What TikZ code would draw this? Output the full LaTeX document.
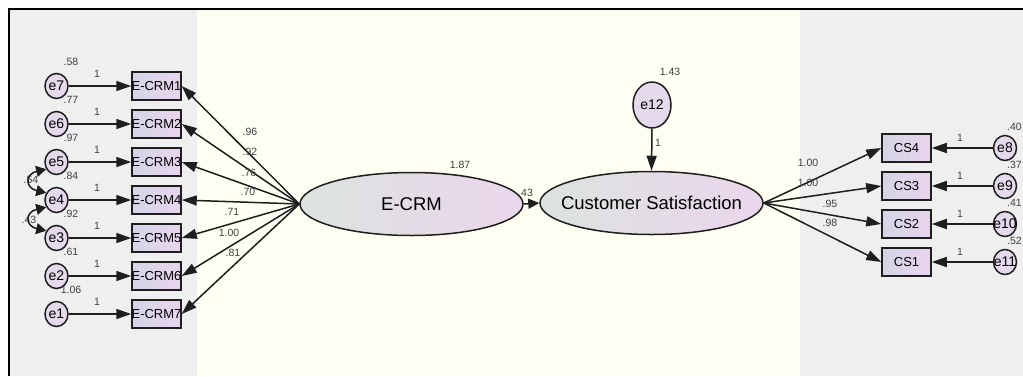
\documentclass[tikz,border=0pt]{standalone}
\usepackage{fontspec}
\setmainfont{Liberation Sans}
\usetikzlibrary{shapes.geometric,arrows.meta}
\definecolor{panelgray}{RGB}{239,239,239}
\definecolor{cream}{RGB}{254,254,242}
\definecolor{ellL}{RGB}{220,227,223}
\definecolor{ellR}{RGB}{234,214,236}
\definecolor{boxL}{RGB}{212,213,230}
\definecolor{boxR}{RGB}{232,212,236}
\definecolor{errfill}{RGB}{228,218,236}
\definecolor{ink}{RGB}{30,30,30}
\newcommand\zw[1]{\makebox[0pt][c]{#1}}
\begin{document}
\begin{tikzpicture}[x=1pt,y=-1pt,
 obs/.style={draw=ink, line width=1.5pt, rectangle, minimum width=49pt, minimum height=28pt, inner sep=0pt, left color=boxL, right color=boxR, font=\fontsize{13}{13}\selectfont},
 err/.style={draw=ink, line width=1.5pt, ellipse, minimum width=23pt, minimum height=25pt, inner sep=0pt, fill=errfill, font=\fontsize{14}{14}\selectfont},
 lat/.style={draw=ink, line width=1.5pt, ellipse, minimum width=223pt, minimum height=63pt, inner sep=0pt, left color=ellL, right color=ellR, font=\fontsize{18.5}{18}\selectfont},
 arr/.style={draw=ink, line width=1.5pt, -{Triangle[length=15pt,width=10pt]}},
 cov/.style={draw=ink, line width=1.5pt, {Triangle[length=10pt,width=11pt]}-{Triangle[length=10pt,width=11pt]}},
 lbl/.style={font=\fontsize{10.5}{11}\selectfont, text=ink!85, inner sep=0pt},
]
\useasboundingbox (0,0) rectangle (1023,376);
% background panels
\fill[white] (0,0) rectangle (1023,376);
\fill[panelgray] (9,9) rectangle (197,376);
\fill[cream] (197,9) rectangle (800,376);
\fill[panelgray] (800,9) rectangle (1023,376);
\draw[black, line width=2pt] (9,376) -- (9,9) -- (1023,9);

% latent variables
\node[lat] (ecrm) at (411.5,204) {\zw{E-CRM}};
\node[lat] (cs) at (651.5,203) {\zw{Customer Satisfaction}};
\node[err, minimum width=38pt, minimum height=46pt] (e12) at (652,105) {\zw{e12}};

% left indicators
\foreach \i/\e/\v in {1/7/.58, 2/6/.77, 3/5/.97, 4/4/.84, 5/3/.92, 6/2/.61, 7/1/1.06}{
  \pgfmathsetmacro{\yy}{86+38*(\i-1)}
  \node[obs] (b\i) at (156.5,\yy) {\zw{E-CRM\i}};
  \node[err] (e\e) at (56.5,\yy) {\zw{e\e}};
  \draw[arr] (e\e.east) -- (b\i.west);
  \node[lbl] (one\i) at (97,\yy-12) {1};
  \node[lbl] (var\e) at (71,\yy-24) {\v};
  \draw[arr] (ecrm.west) -- (b\i.east);
}

% left loadings
\node[lbl] (l1) at (250,132) {.96};
\node[lbl] (l2) at (250,152) {.92};
\node[lbl] (l3) at (249,173) {.76};
\node[lbl] (l4) at (248,192) {.70};
\node[lbl] (l5) at (232,212) {.71};
\node[lbl] (l6) at (229,233) {1.00};
\node[lbl] (l7) at (233,253) {.81};

% covariances
\node[lbl] (c54) at (31,180) {.54};
\node[lbl] (c43) at (29,220) {.43};
\draw[cov] (e5.215) .. controls (25,174) and (25,188) .. (e4.145);
\draw[cov] (e4.215) .. controls (25,212) and (25,226) .. (e3.145);

% structural path
\draw[draw=ink, line width=1.5pt, -{Triangle[length=11pt,width=10pt]}] (ecrm.east) -- (cs.west);
\node[lbl] (v187) at (460,165) {1.87};
\node[lbl] (p43) at (527,193) {43};
\draw[arr] (e12.south) -- (cs.north);
\node[lbl] (v143) at (670,72) {1.43};
\node[lbl] (one12) at (658,143) {1};

% right indicators
\foreach \i/\n/\e/\v in {1/4/8/.40, 2/3/9/.37, 3/2/10/.41, 4/1/11/.52}{
  \pgfmathsetmacro{\yy}{148+38*(\i-1)}
  \node[obs] (cs\n) at (906.5,\yy) {\zw{CS\n}};
  \node[err] (e\e) at (1005,\yy) {\zw{e\e}};
  \draw[arr] (e\e.west) -- (cs\n.east);
  \draw[arr] (cs.east) -- (cs\n.west);
  \node[lbl] (oner\i) at (960,\yy-10) {1};
  \node[lbl, anchor=east] (varr\e) at (1022,\yy-21) {\v};
}
\node[lbl] (r1) at (808,163) {1.00};
\node[lbl] (r2) at (808,183) {1.00};
\node[lbl] (r3) at (830,204) {.95};
\node[lbl] (r4) at (830,223) {.98};
\end{tikzpicture}
\end{document}
